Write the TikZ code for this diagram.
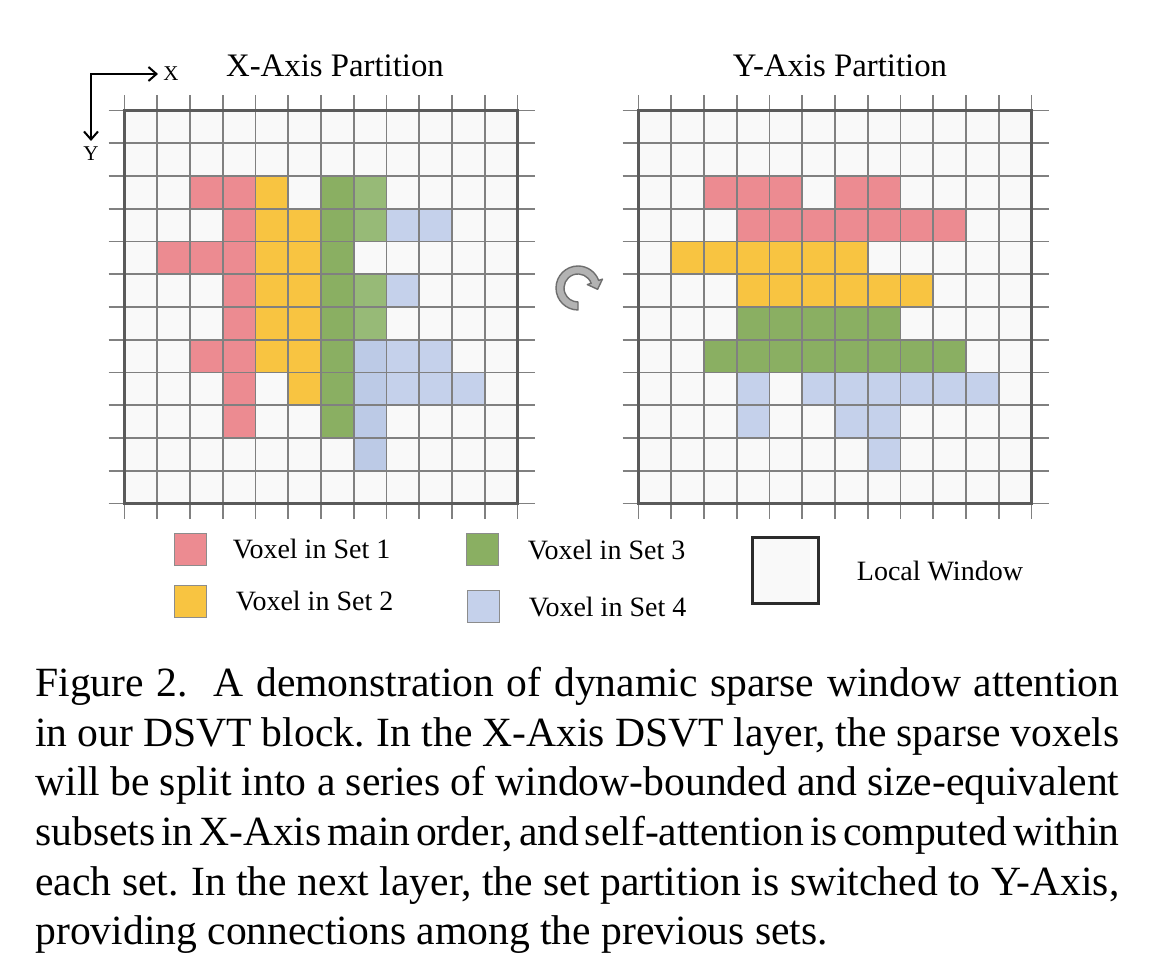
\documentclass[tikz,border=0pt]{standalone}
\usepackage{fontspec}
\setmainfont{Liberation Serif}
\usetikzlibrary{%
  arrows.meta,% Straight Barb
  positioning% right=of
}
\definecolor{cellbg}{HTML}{F9F9F9}
\definecolor{gridgray}{HTML}{808080}
\definecolor{framegray}{HTML}{5A5A5A}
\definecolor{keygray}{HTML}{8C8C8C}
\definecolor{localline}{HTML}{2B2B2B}
\definecolor{setA}{HTML}{EC8B91}
\definecolor{setB}{HTML}{F8C441}
\definecolor{setC}{HTML}{8AAF62}
\definecolor{setCl}{HTML}{97BA77}
\definecolor{setD}{HTML}{C5D1EB}
\definecolor{setDd}{HTML}{BCCAE6}
\definecolor{turnfill}{HTML}{B3B3B3}
\definecolor{turnline}{HTML}{6E6E6E}
\newcommand{\capspacing}{%
  \spaceskip=0.25em plus 0.3em minus 0.16em\relax
  \xspaceskip=0.3em plus 0.3em minus 0.16em\relax}

\begin{document}
\begin{tikzpicture}[
    x=0.5pt,y=-0.5pt,
    gridline/.style={draw=gridgray,line width=0.9pt},
    gridframe/.style={draw=framegray,line width=1.6pt},
    axis/.style={{Straight Barb[length=4pt,width=7pt]}-{Straight Barb[length=4pt,width=7pt]},
        line width=1pt},
    axlab/.style={font=\fontsize{10.5}{12}\selectfont,inner sep=2.5pt},
    title/.style={font=\fontsize{16.4}{19}\selectfont,inner sep=0pt},
    key/.style={draw=keygray,line width=0.5pt,minimum size=16pt,inner sep=0pt},
    keytext/.style={font=\fontsize{14}{16}\selectfont,inner sep=0pt},
    capline/.style={font=\fontsize{20.8}{24.8}\selectfont,
        inner sep=0pt,anchor=base west},
    node distance=12pt
  ]
    \path[fill=white] (0,0) rectangle (1150,972);
    \useasboundingbox (0,0) rectangle (1150,972);

    % the two windows
    \foreach \gx in {124.5,638.5}
        \fill[cellbg] (\gx,110.5) rectangle ++(393,393);

    % X-axis partition
    \begin{scope}[shift={(124.5,110.5)}]
        \foreach \c/\r/\s in {2/2/setA,3/2/setA,4/2/setB,6/2/setC,7/2/setCl,
                3/3/setA,4/3/setB,5/3/setB,6/3/setC,7/3/setCl,8/3/setD,9/3/setD,
                1/4/setA,2/4/setA,3/4/setA,4/4/setB,5/4/setB,6/4/setC,
                3/5/setA,4/5/setB,5/5/setB,6/5/setC,7/5/setCl,8/5/setD,
                3/6/setA,4/6/setB,5/6/setB,6/6/setC,7/6/setCl,
                2/7/setA,3/7/setA,4/7/setB,5/7/setB,6/7/setC,7/7/setDd,8/7/setD,9/7/setD,
                3/8/setA,5/8/setB,6/8/setC,7/8/setDd,8/8/setD,9/8/setD,10/8/setD,
                3/9/setA,6/9/setC,7/9/setDd,
                7/10/setDd}
            \fill[\s] (\c*32.75,\r*32.75) rectangle ++(32.75,32.75);
    \end{scope}

    % Y-axis partition
    \begin{scope}[shift={(638.5,110.5)}]
        \foreach \r/\a/\b/\s in {2/2/4/setA,2/6/7/setA,3/3/9/setA,
                4/1/6/setB,5/3/8/setB,
                6/3/7/setC,7/2/9/setC,
                8/3/3/setD,8/5/10/setD,9/3/3/setD,9/6/7/setD,10/7/7/setD}
            \fill[\s] (\a*32.75,\r*32.75) rectangle ({(\b+1)*32.75},{(\r+1)*32.75});
    \end{scope}

    \foreach \gx in {124.5,638.5} {
        \begin{scope}[shift={(\gx,110.5)}]
            \foreach \i in {0,...,12} {
                \draw[gridline] (\i*32.75,-15) -- (\i*32.75,408);
                \draw[gridline] (-16,\i*32.75) -- (410,\i*32.75);
            }
            \draw[gridframe] (0,0) rectangle (393,393);
        \end{scope}
    }

    % axes
    \node[axlab,anchor=west]  (xlab) at (158,74) {X};
    \node[axlab,anchor=north] (ylab) at (91,141) {Y};
    \draw[axis] (xlab.west) -| (ylab.north);

    \node[title,anchor=base] (xtitle) at (335,77) {X-Axis Partition};
    \node[title,anchor=base] (ytitle) at (840,77) {Y-Axis Partition};

    % switch of the partition
    \begin{scope}[shift={(578,288)},yscale=-1]
        \filldraw[fill=turnfill,draw=turnline,line width=0.7pt,line join=round]
            (270:22) arc[start angle=270,end angle=20,radius=22] -- (20:26)
            -- (19.6,-1.3) -- (20:10) -- (20:14)
            arc[start angle=20,end angle=270,radius=14] -- cycle;
    \end{scope}

    % legend
    \node[key,fill=setA] (key1) at (190.5,549) {};
    \node[key,fill=setB] (key2) at (190.5,601) {};
    \node[key,fill=setC] (key3) at (482,549.5) {};
    \node[key,fill=setD] (key4) at (483,606.5) {};
    \node[key,draw=localline,line width=1.5pt,fill=cellbg,minimum size=33pt] (keyw) at (785,570.5) {};
    \node[keytext,right=12.75pt of key1] (lab1) {Voxel in Set 1};
    \node[keytext,right=14.25pt of key2] (lab2) {Voxel in Set 2};
    \node[keytext,right=14.5pt of key3]  (lab3) {Voxel in Set 3};
    \node[keytext,right=14.5pt of key4]  (lab4) {Voxel in Set 4};
    \node[keytext,right=18.5pt of keyw]  (labw) {Local Window};

    % caption
    \foreach \txt [count=\k from 0] in {%
            {Figure 2.\ \ A demonstration of dynamic sparse window attention},
            {in our DSVT block. In the X-Axis DSVT layer, the sparse voxels},
            {will be split into a series of window-bounded and size-equivalent},
            {subsets in X-Axis main order, and self-attention is computed within},
            {each set. In the next layer, the set partition is switched to Y-Axis,}}
        \node[capline] (cap\k) at (35,{696.7+49.6*\k}) {\capspacing\makebox[542pt][s]{\txt}};
    \node[capline] (cap5) at (35,944.7) {providing connections among the previous sets.};
\end{tikzpicture}
\end{document}
